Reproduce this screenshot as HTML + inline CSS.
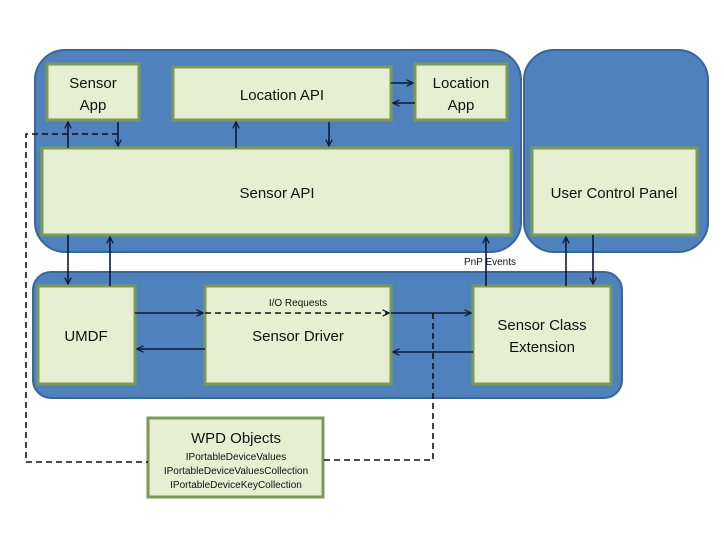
<!DOCTYPE html>
<html><head><meta charset="utf-8"><style>
html,body{margin:0;padding:0;background:#fff;}
svg{display:block;}
text{font-family:"Liberation Sans",sans-serif;fill:#111;}
</style></head><body>
<svg width="724" height="544" viewBox="0 0 724 544" xmlns="http://www.w3.org/2000/svg">
<defs>
<marker id="a" viewBox="0 0 10 10" refX="9" refY="5" markerWidth="8" markerHeight="8" orient="auto-start-reverse" markerUnits="userSpaceOnUse">
<path d="M1,1 L9,5 L1,9" fill="none" stroke="#0d1a3a" stroke-width="1.6"/></marker>
</defs>
<rect width="724" height="544" fill="#fff"/>
<!-- containers -->
<rect x="35" y="50" width="486" height="202" rx="30" fill="#4f81bd" stroke="#3a6598" stroke-width="2"/>
<rect x="524" y="50" width="184" height="202" rx="30" fill="#4f81bd" stroke="#3a6598" stroke-width="2"/>
<rect x="33" y="272" width="589" height="126" rx="18" fill="#4f81bd" stroke="#3a6598" stroke-width="2"/>
<g fill="#e6efd2" stroke="#7b9a55" stroke-width="3">
<rect x="47" y="64" width="92" height="56"/>
<rect x="173" y="67" width="218" height="53"/>
<rect x="415" y="64" width="92" height="56"/>
<rect x="42" y="148" width="469" height="87"/>
<rect x="532" y="148" width="165" height="87"/>
<rect x="38" y="286" width="97" height="98"/>
<rect x="205" y="286" width="186" height="98"/>
<rect x="473" y="286" width="138" height="98"/>
<rect x="148" y="418" width="175" height="79"/>
</g>
<g font-size="15" text-anchor="middle">
<text x="93" y="88">Sensor</text><text x="93" y="110">App</text>
<text x="282" y="100">Location API</text>
<text x="461" y="88">Location</text><text x="461" y="110">App</text>
<text x="277" y="198">Sensor API</text>
<text x="614" y="198">User Control Panel</text>
<text x="86" y="341">UMDF</text>
<text x="298" y="341">Sensor Driver</text>
<text x="542" y="330">Sensor Class</text><text x="542" y="352">Extension</text>
<text x="236" y="443">WPD Objects</text>
</g>
<g font-size="10" text-anchor="middle">
<text x="236" y="460">IPortableDeviceValues</text>
<text x="236" y="474">IPortableDeviceValuesCollection</text>
<text x="236" y="488">IPortableDeviceKeyCollection</text>
<text x="298" y="306">I/O Requests</text>
<text x="490" y="265">PnP Events</text>
</g>
<!-- solid arrows -->
<g stroke="#0d1a3a" stroke-width="1.6" fill="none" marker-end="url(#a)">
<line x1="68" y1="148" x2="68" y2="122"/>
<line x1="118" y1="122" x2="118" y2="146"/>
<line x1="236" y1="148" x2="236" y2="122"/>
<line x1="329" y1="122" x2="329" y2="146"/>
<line x1="391" y1="83" x2="413" y2="83"/>
<line x1="415" y1="103" x2="393" y2="103"/>
<line x1="68" y1="235" x2="68" y2="284"/>
<line x1="110" y1="286" x2="110" y2="237"/>
<line x1="486" y1="286" x2="486" y2="237"/>
<line x1="566" y1="286" x2="566" y2="237"/>
<line x1="593" y1="235" x2="593" y2="284"/>
<line x1="135" y1="313" x2="203" y2="313"/>
<line x1="205" y1="349" x2="137" y2="349"/>
<line x1="391" y1="313" x2="471" y2="313"/>
<line x1="473" y1="352" x2="393" y2="352"/>
</g>
<g stroke="#111" stroke-width="1.6" fill="none" stroke-dasharray="6,4">
<line x1="205" y1="313" x2="389" y2="313" marker-end="url(#a)"/>
<polyline points="433,313 433,460 323,460"/>
<polyline points="118,134 26,134 26,462 148,462"/>
</g>
</svg>
</body></html>
